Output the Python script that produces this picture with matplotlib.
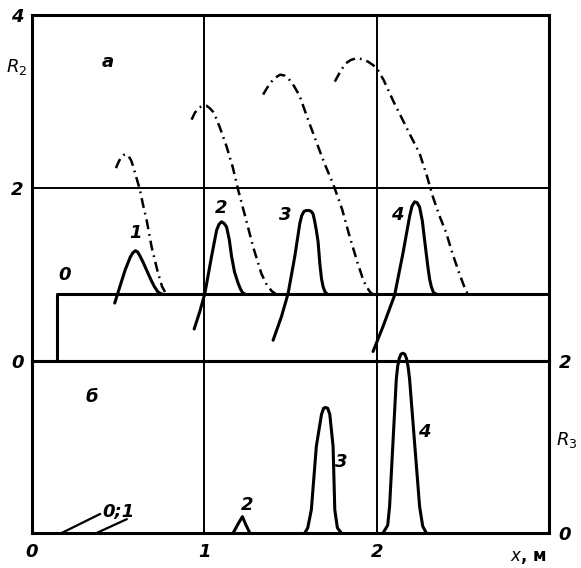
import matplotlib
matplotlib.use("Agg")
import matplotlib.pyplot as plt

# ---- data ----
# panel a: R2 vs x
step0_x = [0.145, 0.145, 3.0]
step0_y = [0.0, 0.77, 0.77]

sol1_x = [0.48, 0.51, 0.54, 0.57, 0.585, 0.60, 0.613, 0.625, 0.645, 0.665, 0.69, 0.71, 0.73, 0.745, 0.76]
sol1_y = [0.67, 0.86, 1.05, 1.20, 1.25, 1.275, 1.26, 1.22, 1.14, 1.05, 0.94, 0.86, 0.80, 0.78, 0.77]
sol2_x = [0.941, 0.975, 1.003, 1.042, 1.071, 1.085, 1.10, 1.115, 1.129, 1.145, 1.158, 1.175, 1.196, 1.21, 1.222, 1.24]
sol2_y = [0.37, 0.58, 0.78, 1.21, 1.51, 1.58, 1.61, 1.59, 1.55, 1.40, 1.21, 1.03, 0.90, 0.83, 0.79, 0.77]
sol3_x = [1.399, 1.447, 1.486, 1.525, 1.554, 1.565, 1.578, 1.592, 1.608, 1.62, 1.631, 1.640,
          1.650, 1.660, 1.670, 1.680, 1.689, 1.700, 1.715]
sol3_y = [0.24, 0.51, 0.78, 1.21, 1.59, 1.68, 1.73, 1.74, 1.74, 1.73, 1.70, 1.62,
          1.51, 1.38, 1.13, 0.95, 0.86, 0.80, 0.77]
sol4_x = [1.979, 2.037, 2.104, 2.153, 2.191, 2.205, 2.220, 2.235, 2.249, 2.265, 2.278, 2.297,
          2.307, 2.317, 2.33, 2.35]
sol4_y = [0.11, 0.40, 0.76, 1.25, 1.67, 1.79, 1.84, 1.83, 1.78, 1.62, 1.40, 1.09,
          0.95, 0.86, 0.79, 0.77]

dd1_x = [0.487, 0.50, 0.515, 0.53, 0.545, 0.56, 0.575, 0.587, 0.60, 0.626, 0.645, 0.665,
         0.694, 0.732, 0.755, 0.777]
dd1_y = [2.23, 2.29, 2.35, 2.38, 2.39, 2.37, 2.32, 2.25, 2.16, 1.98, 1.80, 1.63,
         1.32, 1.01, 0.86, 0.78]
dd2_x = [0.926, 0.945, 0.97, 0.99, 1.013, 1.033, 1.051, 1.07, 1.09, 1.129, 1.165, 1.196,
         1.24, 1.283, 1.331, 1.36, 1.39, 1.418]
dd2_y = [2.79, 2.87, 2.93, 2.95, 2.95, 2.92, 2.88, 2.80, 2.70, 2.48, 2.24, 1.98,
         1.65, 1.32, 1.01, 0.89, 0.81, 0.77]
dd3_x = [1.341, 1.365, 1.39, 1.415, 1.44, 1.465, 1.49, 1.52, 1.554, 1.60, 1.66, 1.70,
         1.747, 1.80, 1.843, 1.89, 1.92, 1.94, 1.965, 1.988]
dd3_y = [3.08, 3.16, 3.23, 3.28, 3.31, 3.30, 3.26, 3.18, 3.06, 2.80, 2.48, 2.27,
         2.05, 1.75, 1.44, 1.13, 0.95, 0.86, 0.79, 0.76]
dd4_x = [1.757, 1.79, 1.82, 1.85, 1.882, 1.915, 1.95, 1.98, 2.008, 2.04, 2.07, 2.10,
         2.133, 2.19, 2.249, 2.29, 2.326, 2.364, 2.404, 2.44, 2.48, 2.51, 2.525, 2.539]
dd4_y = [3.23, 3.35, 3.44, 3.48, 3.50, 3.49, 3.46, 3.42, 3.36, 3.25, 3.12, 2.99,
         2.86, 2.63, 2.40, 2.15, 1.90, 1.68, 1.48, 1.24, 1.01, 0.85, 0.79, 0.77]

# panel b: R3 vs x
b2_x = [1.167, 1.20, 1.221, 1.24, 1.264]
b2_y = [0.0, 0.12, 0.19, 0.10, 0.0]
b3_x = [1.583, 1.60, 1.621, 1.650, 1.680, 1.692, 1.703, 1.716, 1.728, 1.747, 1.757, 1.772, 1.795]
b3_y = [0.0, 0.06, 0.27, 1.01, 1.38, 1.45, 1.46, 1.45, 1.38, 1.01, 0.27, 0.06, 0.0]
b4_x = [2.037, 2.064, 2.075, 2.114, 2.122, 2.131, 2.141, 2.152, 2.163, 2.173, 2.182, 2.191,
        2.249, 2.267, 2.288]
b4_y = [0.0, 0.09, 0.31, 1.79, 1.94, 2.03, 2.08, 2.09, 2.08, 2.03, 1.94, 1.79,
        0.31, 0.08, 0.0]
lead_x = [[0.172, 0.394], [0.375, 0.549]]
lead_y = [[0.0, 0.22], [0.0, 0.16]]

top_labels = [("0", 0.19, 1.0), ("1", 0.60, 1.48), ("2", 1.10, 1.77),
              ("3", 1.467, 1.69), ("4", 2.12, 1.69)]
bot_labels = [("2", 1.25, 0.32), ("3", 1.795, 0.83), ("4", 2.278, 1.17),
              ("0;1", 0.50, 0.24)]

# ---- figure ----
fig = plt.figure(figsize=(5.81, 5.68), dpi=100)
L, R = 32 / 581, 549 / 581
ax = fig.add_axes([L, 1 - 361 / 568, R - L, (361 - 15) / 568])
bx = fig.add_axes([L, 1 - 533 / 568, R - L, (533 - 361) / 568])

txt = dict(fontsize=13, fontstyle="italic", fontweight="bold", family="DejaVu Sans")
lw = 2.2
dash = (0, (4, 2, 0.7, 2))
curve = dict(color="k", lw=lw, solid_capstyle="round", solid_joinstyle="round")

for a in (ax, bx):
    a.set_xlim(0, 3)
    for s in a.spines.values():
        s.set_linewidth(lw)
    a.tick_params(length=0)
    a.axvline(1, color="k", lw=1.4)
    a.axvline(2, color="k", lw=1.4)

ax.set_ylim(0, 4)
ax.axhline(2, color="k", lw=1.4)
ax.set_xticks([])
ax.set_yticks([0, 2, 4])
ax.set_yticklabels(["0", "2", "4"], **txt)
ax.tick_params(axis="y", pad=6)

ax.plot(step0_x, step0_y, color="k", lw=lw)
for xs, ys in [(sol1_x, sol1_y), (sol2_x, sol2_y), (sol3_x, sol3_y), (sol4_x, sol4_y)]:
    ax.plot(xs, ys, **curve)
for xs, ys in [(dd1_x, dd1_y), (dd2_x, dd2_y), (dd3_x, dd3_y), (dd4_x, dd4_y)]:
    ax.plot(xs, ys, color="k", lw=1.8, linestyle=dash, dash_joinstyle="round")
for s, x, y in top_labels:
    ax.text(x, y, s, ha="center", va="center", **txt)
ax.text(0.44, 3.46, "а", ha="center", va="center", **txt)
ax.text(-0.09, 3.4, "$R_2$", ha="center", va="center", fontsize=13, clip_on=False)

bx.set_ylim(0, 2)
bx.set_xticks([0, 1, 2])
bx.set_xticklabels(["0", "1", "2"], **txt)
bx.get_xticklabels()[0].set_x(-0.03)
bx.tick_params(axis="x", pad=7)
bx.yaxis.tick_right()
bx.set_yticks([0, 2])
bx.set_yticklabels(["0", "2"], **txt)
bx.tick_params(axis="y", pad=7)

for xs, ys in [(b2_x, b2_y), (b3_x, b3_y), (b4_x, b4_y)]:
    bx.plot(xs, ys, clip_on=False, **curve)
for xs, ys in zip(lead_x, lead_y):
    bx.plot(xs, ys, color="k", lw=1.6)
for s, x, y in bot_labels:
    bx.text(x, y, s, ha="center", va="center", **txt)
bx.text(0.35, 1.58, "б", ha="center", va="center", **txt)
bx.text(3.1, 1.08, "$R_3$", ha="center", va="center", fontsize=13, clip_on=False)
bx.text(2.88, -0.28, "$x$, м", ha="center", va="center", fontsize=12,
        fontweight="bold", clip_on=False)

fig.savefig("out.png", dpi=100)
